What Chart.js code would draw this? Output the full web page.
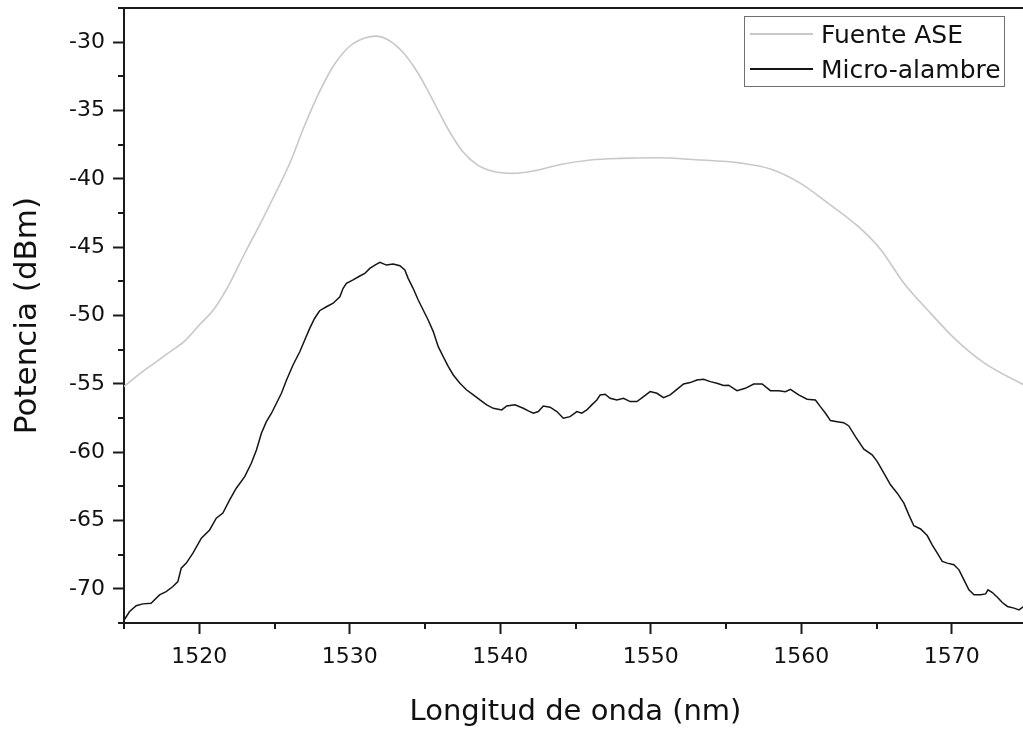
<!DOCTYPE html>
<html lang="es">
<head>
<meta charset="utf-8">
<title>Potencia vs longitud de onda</title>
<script src="https://cdn.jsdelivr.net/npm/chart.js@4.4.0/dist/chart.umd.min.js"></script>
<style>
  html, body { margin: 0; padding: 0; background: #fff; overflow: hidden; }
  #wrap { width: 1027px; height: 730px; }
</style>
</head>
<body>
<div id="wrap"><canvas id="grafico" width="1027" height="730"></canvas></div>
<script>
// Ejes
const xTicks = [1520, 1530, 1540, 1550, 1560, 1570];
const xMinor = [1515, 1525, 1535, 1545, 1555, 1565, 1575];
const yTicks = [-70, -65, -60, -55, -50, -45, -40, -35, -30];
const yMinor = [-72.5, -67.5, -62.5, -57.5, -52.5, -47.5, -42.5, -37.5, -32.5, -27.5];

// Fuente ASE
const aseNm = [1515, 1516, 1517, 1518, 1519, 1520, 1521, 1522, 1523, 1524, 1525, 1526, 1527, 1528, 1529, 1530,
  1531, 1531.75, 1532.5, 1533.5, 1534.5, 1535.5, 1536.5, 1537.5, 1538.5, 1539.5, 1540.8, 1542.3, 1544, 1546,
  1548, 1550.3, 1553, 1556, 1558, 1559.9, 1561.8, 1563.8, 1565.3, 1566.8, 1568.4, 1570.3, 1572.2, 1575];
const aseDbm = [-55.2, -54.3, -53.5, -52.7, -51.9, -50.7, -49.5, -47.7, -45.5, -43.4, -41.2, -38.9, -36.1, -33.6, -31.6, -30.3,
  -29.7, -29.56, -29.8, -30.7, -32.2, -34.2, -36.3, -38.0, -39.0, -39.45, -39.6, -39.4, -38.95, -38.62,
  -38.5, -38.46, -38.6, -38.85, -39.3, -40.3, -41.8, -43.5, -45.2, -47.6, -49.6, -51.8, -53.5, -55.2];

// Micro-alambre
const microNm = [1515, 1515.37, 1515.81, 1516.25, 1516.8, 1517.36, 1517.8, 1518.25, 1518.58, 1518.8, 1519.14, 1519.58,
  1520.14, 1520.69, 1521.13, 1521.57, 1522.02, 1522.46, 1523.02, 1523.46, 1523.8, 1524.13, 1524.46, 1524.8,
  1525.13, 1525.46, 1525.8, 1526.23, 1526.68, 1527.01, 1527.34, 1527.67, 1528, 1528.45, 1528.9, 1529.34,
  1529.56, 1529.78, 1530.22, 1530.67, 1531, 1531.33, 1531.67, 1532, 1532.44, 1532.88, 1533.33, 1533.66,
  1533.88, 1534.21, 1534.55, 1534.88, 1535.21, 1535.55, 1535.88, 1536.21, 1536.55, 1536.88, 1537.32, 1537.77,
  1538.21, 1538.65, 1539.1, 1539.54, 1540.1, 1540.43, 1540.98, 1541.53, 1541.9, 1542.2, 1542.53, 1542.86,
  1543.31, 1543.76, 1544.19, 1544.64, 1545.09, 1545.42, 1545.75, 1546.08, 1546.42, 1546.64, 1546.97, 1547.3,
  1547.75, 1548.19, 1548.63, 1549.08, 1549.52, 1549.96, 1550.41, 1550.85, 1551.29, 1551.74, 1552.18, 1552.62,
  1553.07, 1553.51, 1553.96, 1554.4, 1554.84, 1555.17, 1555.73, 1556.28, 1556.84, 1557.4, 1557.95, 1558.5,
  1558.95, 1559.28, 1559.83, 1560.39, 1560.94, 1561.27, 1561.61, 1561.94, 1562.39, 1562.82, 1563.16, 1563.6,
  1564.16, 1564.71, 1565.05, 1565.49, 1565.93, 1566.38, 1566.82, 1567.15, 1567.48, 1567.93, 1568.37, 1568.7,
  1569.04, 1569.37, 1569.7, 1570.14, 1570.48, 1570.81, 1571.14, 1571.48, 1571.92, 1572.25, 1572.41, 1572.7,
  1573.03, 1573.36, 1573.7, 1574.14, 1574.47, 1574.9];
const microDbm = [-72.3, -71.66, -71.24, -71.1, -71.05, -70.44, -70.2, -69.83, -69.47, -68.49, -68.12, -67.39,
  -66.29, -65.69, -64.83, -64.46, -63.49, -62.64, -61.79, -60.81, -59.84, -58.62, -57.77, -57.15,
  -56.42, -55.69, -54.72, -53.62, -52.65, -51.79, -50.94, -50.2, -49.65, -49.36, -49.1, -48.63,
  -48.01, -47.65, -47.4, -47.11, -46.92, -46.55, -46.31, -46.11, -46.31, -46.23, -46.36, -46.67,
  -47.28, -48.01, -48.87, -49.6, -50.33, -51.18, -52.28, -53.01, -53.74, -54.35, -54.96, -55.45,
  -55.81, -56.18, -56.54, -56.79, -56.91, -56.62, -56.54, -56.79, -57.0, -57.15, -57.03, -56.62,
  -56.71, -57.03, -57.52, -57.4, -57.03, -57.15, -56.91, -56.54, -56.18, -55.81, -55.76, -56.06,
  -56.18, -56.06, -56.3, -56.3, -55.94, -55.57, -55.69, -56.01, -55.81, -55.4, -55.01, -54.91,
  -54.72, -54.67, -54.84, -54.96, -55.12, -55.1, -55.5, -55.33, -55.01, -55.01, -55.5, -55.5,
  -55.57, -55.4, -55.81, -56.13, -56.18, -56.67, -57.15, -57.69, -57.77, -57.84, -58.08, -58.86,
  -59.78, -60.2, -60.69, -61.54, -62.39, -63.0, -63.73, -64.59, -65.38, -65.62, -66.1, -66.78,
  -67.39, -68.0, -68.12, -68.24, -68.61, -69.34, -70.07, -70.44, -70.44, -70.37, -70.07, -70.27,
  -70.61, -71.0, -71.29, -71.41, -71.54, -71.2];

const FUENTE = 'DejaVu Sans';
const TINTA = '#111';

function puntos(xs, ys) {
  return xs.map((x, i) => ({ x, y: ys[i] }));
}

// borde superior, ticks menores y leyenda con marco
const marcoPlugin = {
  id: 'marco',
  afterDraw(chart) {
    const { ctx, chartArea: a, scales: { x, y } } = chart;
    ctx.save();
    ctx.strokeStyle = '#1a1a1a';
    ctx.lineWidth = 2;
    ctx.beginPath();
    ctx.moveTo(a.left - 1, a.top);
    ctx.lineTo(a.right, a.top);
    for (const v of xMinor) {
      const px = Math.round(x.getPixelForValue(v));
      ctx.moveTo(px, a.bottom);
      ctx.lineTo(px, a.bottom + 6);
    }
    for (const v of yMinor) {
      const py = Math.round(y.getPixelForValue(v));
      ctx.moveTo(a.left, py);
      ctx.lineTo(a.left - 6, py);
    }
    ctx.stroke();

    // leyenda
    const lx = a.right - 283, ly = a.top + 8;
    ctx.lineWidth = 1;
    ctx.strokeStyle = '#707070';
    ctx.strokeRect(lx + 0.5, ly + 0.5, 260, 70);
    ctx.font = '25px "' + FUENTE + '"';
    ctx.textBaseline = 'alphabetic';
    chart.data.datasets.forEach((ds, i) => {
      const cy = ly + 18 + i * 35;
      ctx.strokeStyle = ds.borderColor;
      ctx.lineWidth = 2;
      ctx.beginPath();
      ctx.moveTo(lx + 6, cy);
      ctx.lineTo(lx + 69, cy);
      ctx.stroke();
      ctx.fillStyle = TINTA;
      ctx.fillText(ds.label, lx + 77, cy + 9);
    });
    ctx.restore();
  }
};

new Chart(document.getElementById('grafico'), {
  type: 'line',
  data: {
    datasets: [
      {
        label: 'Fuente ASE',
        data: puntos(aseNm, aseDbm),
        borderColor: '#c8c8c8',
        borderWidth: 1.6,
        pointRadius: 0,
        cubicInterpolationMode: 'monotone'
      },
      {
        label: 'Micro-alambre',
        data: puntos(microNm, microDbm),
        borderColor: '#151515',
        borderWidth: 1.5,
        pointRadius: 0,
        tension: 0
      }
    ]
  },
  options: {
    responsive: false,
    animation: false,
    layout: { padding: { top: 8, left: 0, right: 0, bottom: 0 } },
    plugins: { legend: { display: false }, tooltip: { enabled: false } },
    scales: {
      x: {
        type: 'linear',
        min: 1515,
        max: 1575,
        afterBuildTicks: s => { s.ticks = xTicks.map(v => ({ value: v })); },
        afterFit: s => { s.height = 107; s.paddingLeft = 0; s.paddingRight = 0; },
        grid: { drawOnChartArea: false, drawTicks: true, tickLength: 11, tickWidth: 2, tickColor: '#1a1a1a' },
        border: { color: '#1a1a1a', width: 2 },
        ticks: { color: TINTA, font: { family: FUENTE, size: 22 }, padding: 10, maxRotation: 0, callback: v => String(v) },
        title: { display: true, text: 'Longitud de onda (nm)', color: TINTA, font: { family: FUENTE, size: 29 }, padding: { top: 0, bottom: 0 } }
      },
      y: {
        type: 'linear',
        min: -72.5,
        max: -27.5,
        afterBuildTicks: s => { s.ticks = yTicks.map(v => ({ value: v })); },
        afterFit: s => { s.width = 124; s.paddingTop = 0; s.paddingBottom = 0; },
        grid: { drawOnChartArea: false, drawTicks: true, tickLength: 11, tickWidth: 2, tickColor: '#1a1a1a' },
        border: { color: '#1a1a1a', width: 2 },
        ticks: { color: TINTA, font: { family: FUENTE, size: 22 }, padding: 8, callback: v => String(v) },
        title: { display: true, text: 'Potencia (dBm)', color: TINTA, font: { family: FUENTE, size: 31 }, padding: { top: 9, bottom: 0 } }
      }
    }
  },
  plugins: [marcoPlugin]
});
</script>
</body>
</html>
